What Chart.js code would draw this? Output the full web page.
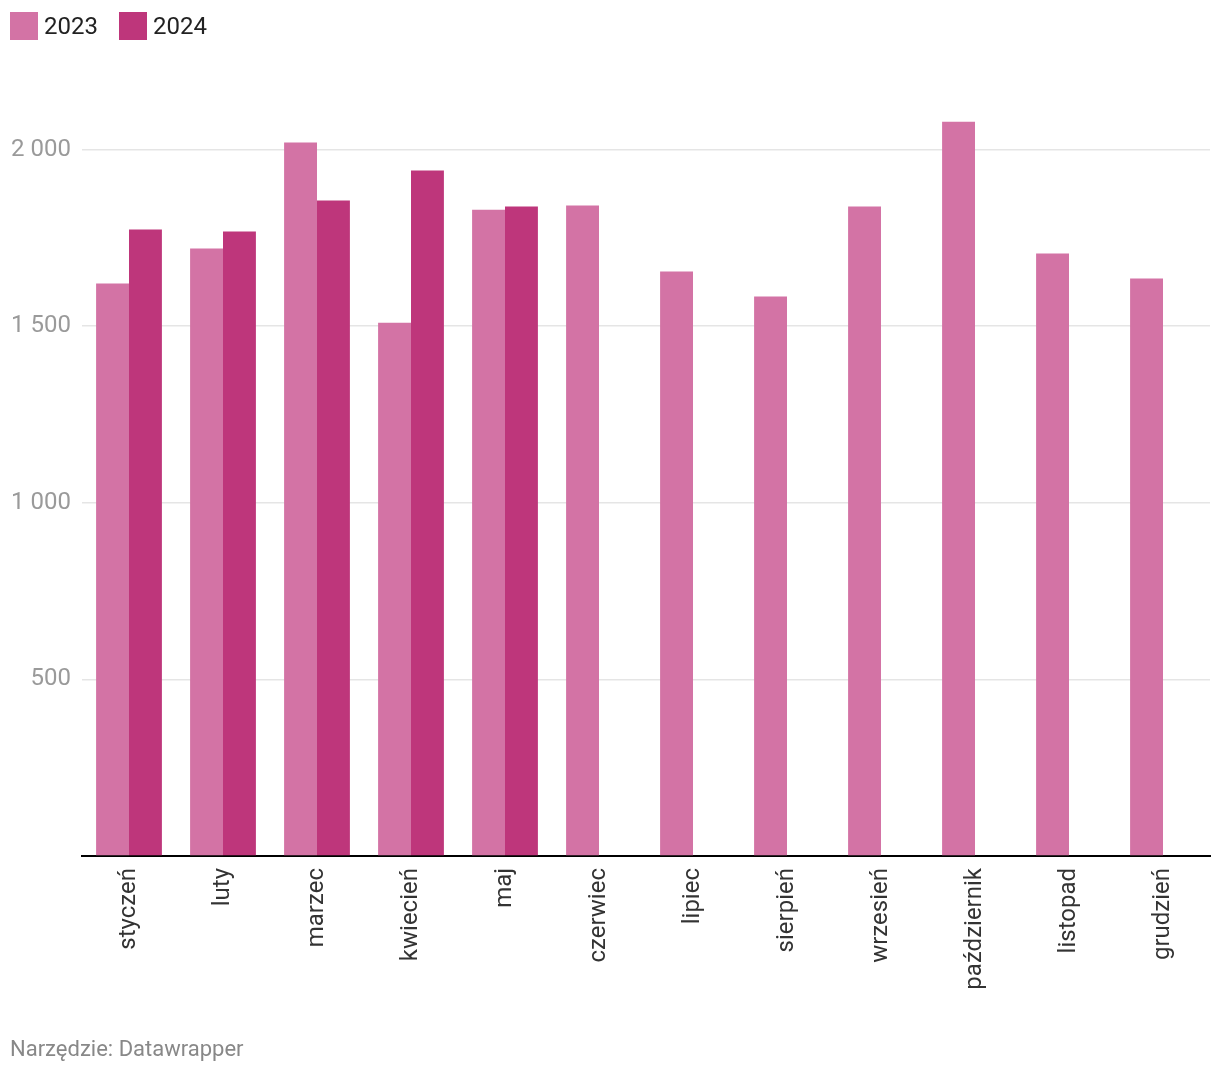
<!DOCTYPE html>
<html><head><meta charset="utf-8">
<script src="https://cdn.jsdelivr.net/npm/chart.js@4"></script>
<style>
html,body{margin:0;padding:0;background:#fff;width:1220px;height:1076px;overflow:hidden;font-family:Roboto,sans-serif}
#wrap{position:absolute;left:0;top:0;width:1220px;height:1076px}
.legend{position:absolute;top:12px;left:10px;display:flex;align-items:center;font-size:24px;color:#222}
.legend span.sw{display:inline-block;width:28px;height:28px;margin-right:6px}
.legend .it{display:flex;align-items:center;margin-right:21px}
.foot{position:absolute;left:10px;top:1036px;font-size:22px;color:#888}
</style></head><body>
<div id="wrap"><canvas id="c" width="1220" height="1076"></canvas></div>
<div class="legend">
<div class="it"><span class="sw" style="background:#d373a5"></span>2023</div>
<div class="it"><span class="sw" style="background:#be367b"></span>2024</div>
</div>
<div class="foot">Narzędzie: Datawrapper</div>
<script>
const categories = ["styczeń","luty","marzec","kwiecień","maj","czerwiec","lipiec","sierpień","wrzesień","październik","listopad","grudzień"];
const values2023 = [1621,1720,2020,1510,1830,1842,1655,1584,1839,2079,1706,1635];
const values2024 = [1774,1768,1856,1941,1839,null,null,null,null,null,null,null];
const yTicks = [500,1000,1500,2000];

new Chart(document.getElementById('c'), {
  type:'bar',
  data:{labels:categories,datasets:[
    {label:'2023',data:values2023,backgroundColor:'#d373a5',categoryPercentage:0.7,barPercentage:1.0},
    {label:'2024',data:values2024,backgroundColor:'#be367b',categoryPercentage:0.7,barPercentage:1.0}
  ]},
  options:{
    responsive:false,animation:false,
    layout:{padding:{top:79,right:10,left:0,bottom:0}},
    plugins:{legend:{display:false},tooltip:{enabled:false}},
    scales:{
      x:{
        grid:{display:false,drawTicks:false},
        border:{display:true,color:'#000',width:2},
        ticks:{color:'#333',font:{family:'Roboto',size:24},minRotation:90,maxRotation:90,padding:12,autoSkip:false},
        afterFit:(s)=>{s.height=220;}
      },
      y:{
        min:0,max:2200,
        afterBuildTicks:(s)=>{s.ticks=[0].concat(yTicks).map(v=>({value:v}));},
        grid:{color:(ctx)=>ctx.tick && ctx.tick.value===0?'rgba(0,0,0,0)':'#e5e5e5',lineWidth:1.5,drawTicks:false},
        border:{display:false},
        ticks:{color:'#9a9a9a',font:{family:'Roboto',size:24},padding:11,
          callback:(v)=>v===0?'':String(v).replace(/\B(?=(\d{3})+(?!\d))/g,' ')},
        afterFit:(s)=>{s.width=82;}
      }
    }
  }
});
</script></body></html>
